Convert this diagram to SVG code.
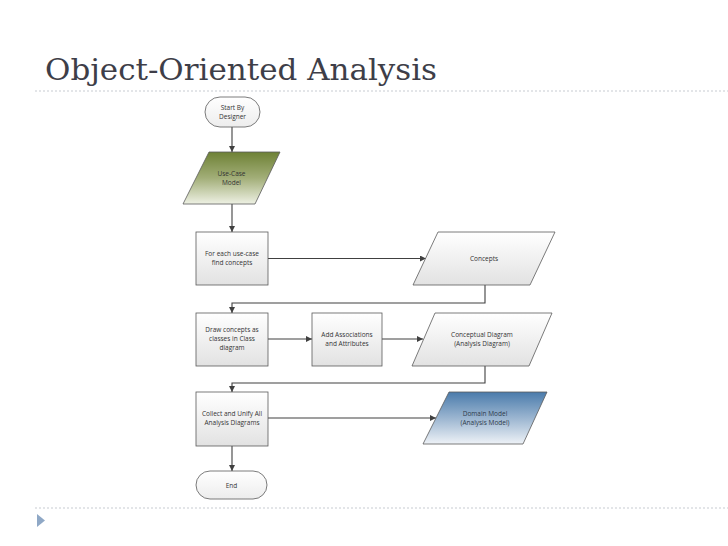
<svg xmlns="http://www.w3.org/2000/svg" width="728" height="546" viewBox="0 0 728 546">
<defs>
<linearGradient id="gProc" x1="0" y1="0" x2="0" y2="1"><stop offset="0" stop-color="#ffffff"/><stop offset="1" stop-color="#e2e2e2"/></linearGradient>
<linearGradient id="gTerm" x1="0" y1="0" x2="0" y2="1"><stop offset="0" stop-color="#ffffff"/><stop offset="1" stop-color="#ededed"/></linearGradient>
<linearGradient id="gGreen" x1="0" y1="0" x2="0" y2="1"><stop offset="0" stop-color="#6e8135"/><stop offset="0.5" stop-color="#a2ae78"/><stop offset="1" stop-color="#eef1e4"/></linearGradient>
<linearGradient id="gBlue" x1="0" y1="0" x2="0" y2="1"><stop offset="0" stop-color="#4a7bab"/><stop offset="0.55" stop-color="#a3bbd4"/><stop offset="1" stop-color="#eef2f7"/></linearGradient>
<marker id="arr" viewBox="0 0 10 10" refX="10" refY="5" markerWidth="6" markerHeight="6" orient="auto" markerUnits="userSpaceOnUse"><path d="M0,0 L10,5 L0,10 z" fill="#404040"/></marker>
</defs>
<style>
.t{font-family:"Open Sans","Liberation Sans",sans-serif;font-size:6.5px;fill:#333;text-anchor:middle}
.box{stroke:#5a5a5a;stroke-width:0.8}
.c{fill:none;stroke:#404040;stroke-width:1.1}
.dots{stroke:#c8ccd2;stroke-width:1.2;stroke-dasharray:2 2}
</style>
<rect width="728" height="546" fill="#ffffff"/>
<text x="45" y="80" font-family="'DejaVu Serif','Liberation Serif',serif" font-size="29" fill="#3e3e48" textLength="392" lengthAdjust="spacingAndGlyphs">Object-Oriented Analysis</text>
<line class="dots" x1="35" y1="91" x2="728" y2="91"/>
<line class="dots" x1="35" y1="508" x2="728" y2="508"/>
<polygon points="37,514 45,520.5 37,527" fill="#8fa8c6"/>

<g id="connectors">
<line class="c" x1="232" y1="127" x2="232" y2="152" marker-end="url(#arr)"/>
<line class="c" x1="232" y1="204" x2="232" y2="232" marker-end="url(#arr)"/>
<line class="c" x1="268" y1="258.5" x2="426" y2="258.5" marker-end="url(#arr)"/>
<polyline class="c" points="485,285 485,303 232,303 232,313" marker-end="url(#arr)"/>
<line class="c" x1="268" y1="339" x2="312" y2="339" marker-end="url(#arr)"/>
<line class="c" x1="382" y1="339" x2="423" y2="339" marker-end="url(#arr)"/>
<polyline class="c" points="485,365 485,383 232,383 232,392" marker-end="url(#arr)"/>
<line class="c" x1="268" y1="418" x2="436" y2="418" marker-end="url(#arr)"/>
<line class="c" x1="232" y1="446" x2="232" y2="471" marker-end="url(#arr)"/>
</g>

<g id="start">
<rect class="box" x="205" y="97" width="55" height="30" rx="15" fill="url(#gTerm)"/>
<text class="t" x="232.5" y="110">Start By</text>
<text class="t" x="232.5" y="119">Designer</text>
</g>
<g id="usecase">
<polygon class="box" points="209,152 280,152 255,204 183,204" fill="url(#gGreen)"/>
<text class="t" x="231.5" y="176">Use-Case</text>
<text class="t" x="231.5" y="185">Model</text>
</g>
<g id="find">
<rect class="box" x="196" y="232" width="72" height="53" fill="url(#gProc)"/>
<text class="t" x="232" y="256">For each use-case</text>
<text class="t" x="232" y="265">find concepts</text>
</g>
<g id="concepts">
<polygon class="box" points="438,232 555,232 530,285 413,285" fill="url(#gProc)"/>
<text class="t" x="484" y="261">Concepts</text>
</g>
<g id="draw">
<rect class="box" x="196" y="313" width="72" height="53" fill="url(#gProc)"/>
<text class="t" x="232" y="332">Draw concepts as</text>
<text class="t" x="232" y="341">classes in Class</text>
<text class="t" x="232" y="350">diagram</text>
</g>
<g id="assoc">
<rect class="box" x="312" y="313" width="70" height="53" fill="url(#gProc)"/>
<text class="t" x="347" y="337">Add Associations</text>
<text class="t" x="347" y="346">and Attributes</text>
</g>
<g id="conceptual">
<polygon class="box" points="435,313 552,313 529,366 412,366" fill="url(#gProc)"/>
<text class="t" x="482" y="337">Conceptual Diagram</text>
<text class="t" x="482" y="346">(Analysis Diagram)</text>
</g>
<g id="collect">
<rect class="box" x="196" y="392" width="72" height="54" fill="url(#gProc)"/>
<text class="t" x="232" y="416">Collect and Unify All</text>
<text class="t" x="232" y="425">Analysis Diagrams</text>
</g>
<g id="domain">
<polygon class="box" points="449,392 547,392 523,444 423,444" fill="url(#gBlue)"/>
<text class="t" x="485" y="416" style="fill:#2e3a4a">Domain Model</text>
<text class="t" x="485" y="425" style="fill:#2e3a4a">(Analysis Model)</text>
</g>
<g id="end">
<rect class="box" x="196" y="471" width="71" height="28" rx="14" fill="url(#gTerm)"/>
<text class="t" x="231.5" y="487.5">End</text>
</g>
</svg>
